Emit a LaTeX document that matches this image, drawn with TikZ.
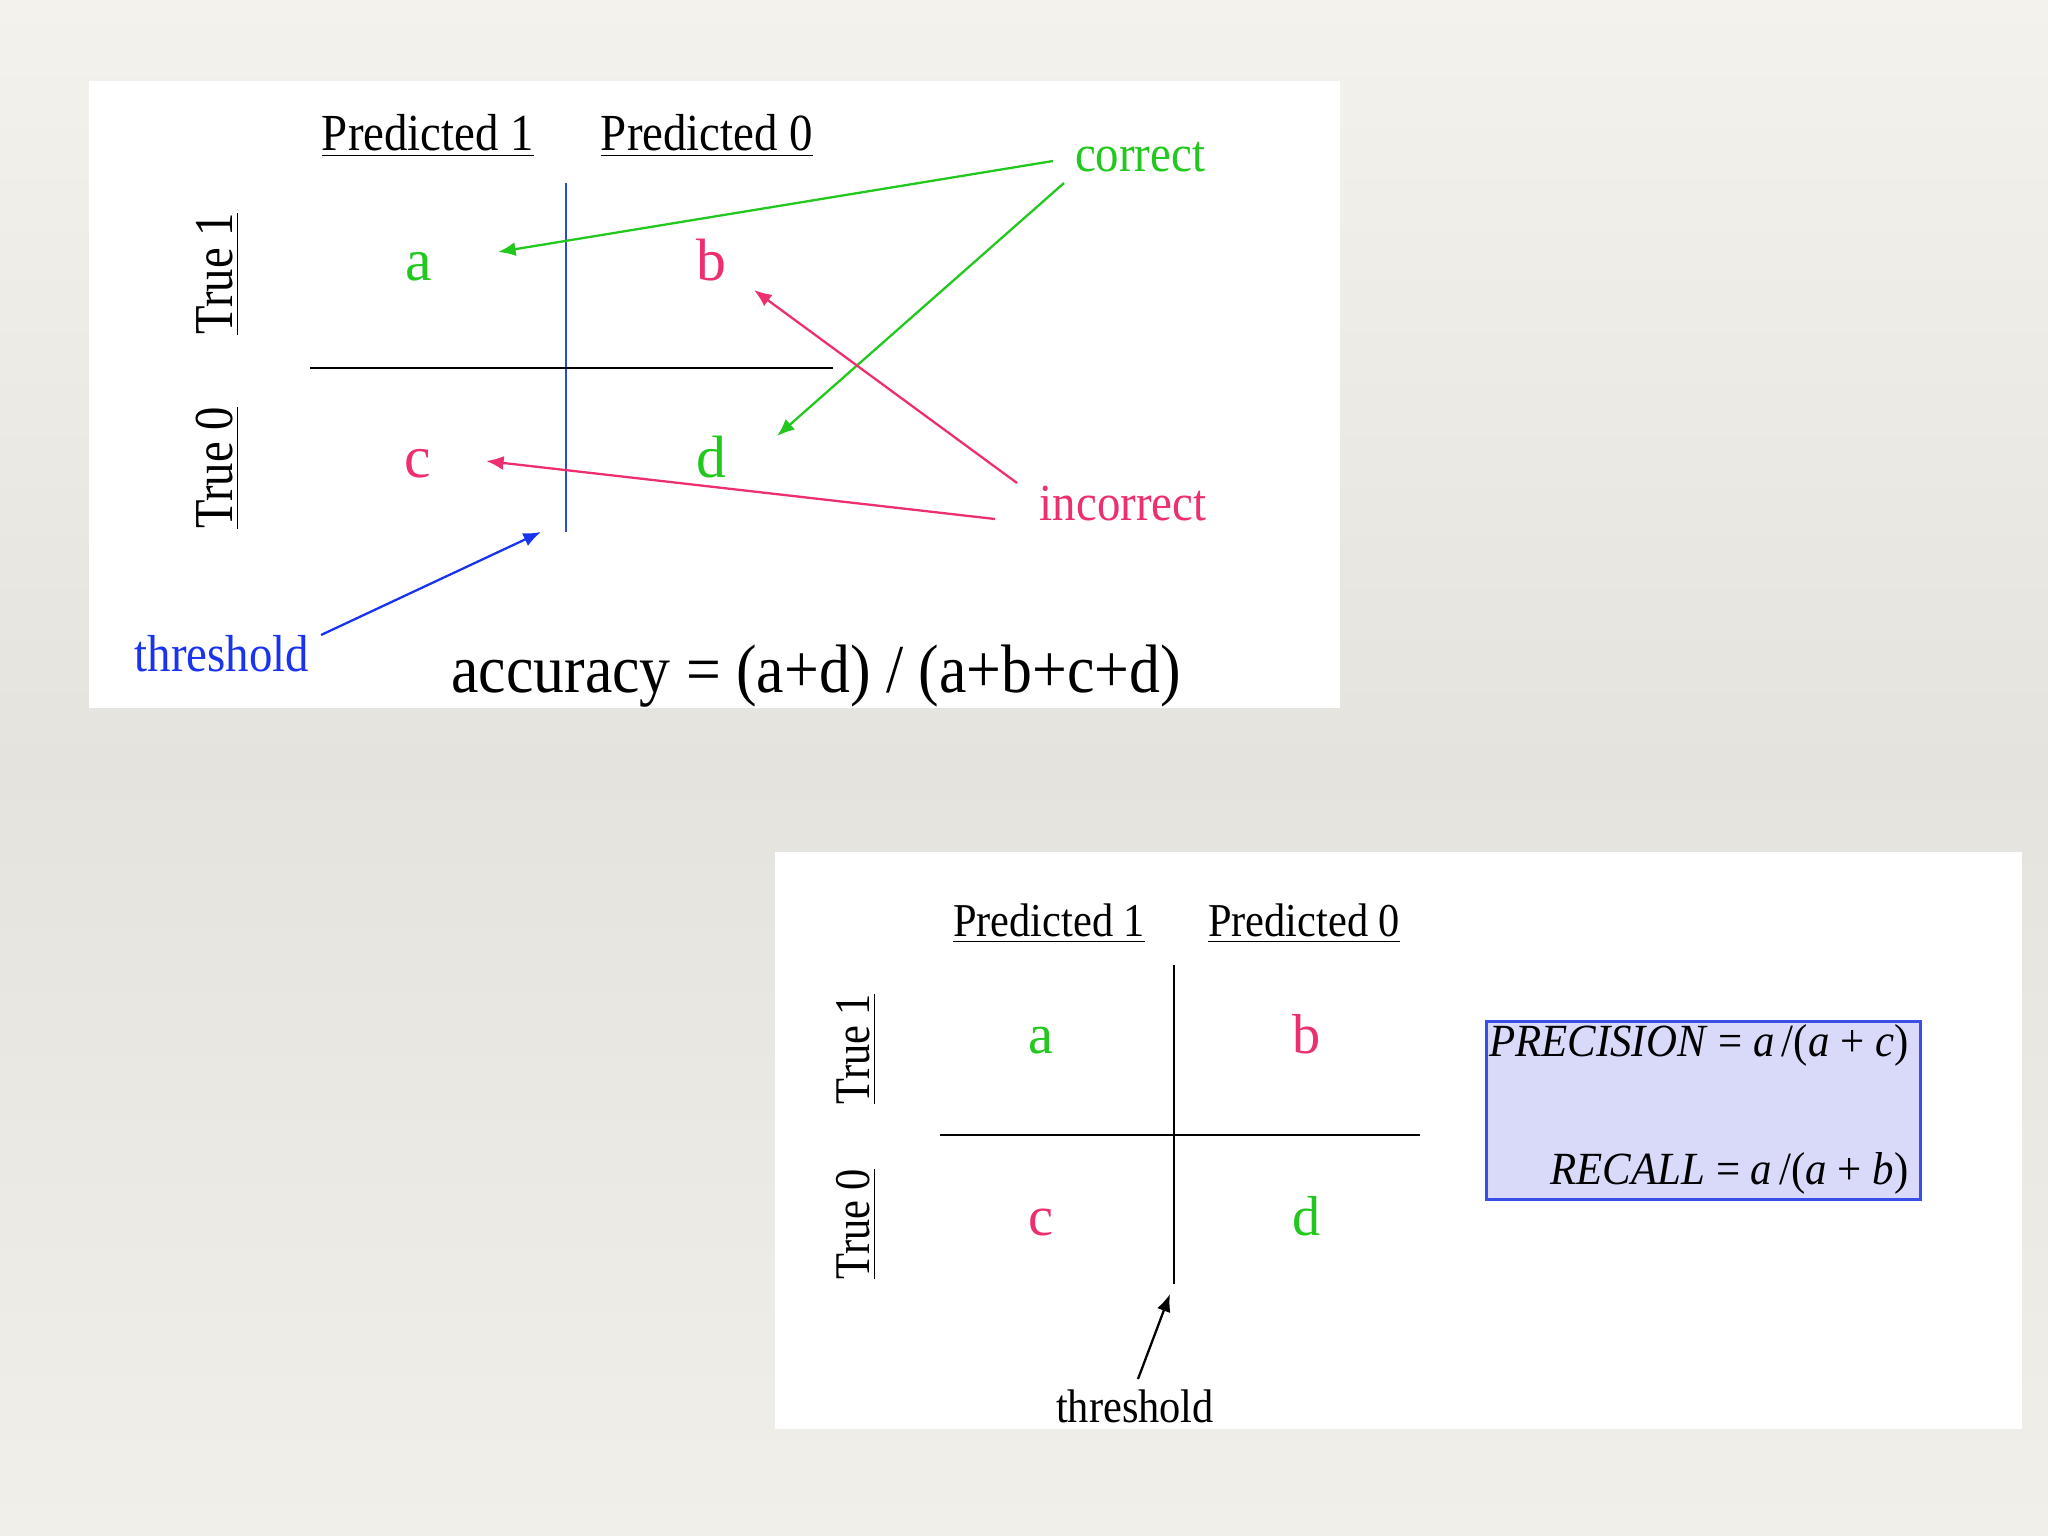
\documentclass[tikz,border=0pt]{standalone}
\usepackage{fontspec}
\usepackage{graphicx}
\setmainfont{Liberation Serif}
\usetikzlibrary{arrows.meta}
\definecolor{cgreen}{HTML}{22C81E}
\definecolor{cpink}{HTML}{EE2F6E}
\definecolor{cblue}{HTML}{1A33EE}
\definecolor{lineblue}{HTML}{2A4AD8}
\definecolor{boxfill}{HTML}{D9D9FA}
\definecolor{boxdraw}{HTML}{3850E8}
\definecolor{bgtop}{HTML}{F3F2EC}
\definecolor{bgmid}{HTML}{E4E3DD}
\definecolor{bgbot}{HTML}{F0EFE9}
\newcommand\fsz[1]{\fontsize{#1}{#1}\selectfont}
\newcommand\cond[1]{\scalebox{0.9}[1]{#1}}
\tikzset{
  lbl/.style={inner sep=0pt, anchor=base},
  toplbl/.style={lbl, font=\fsz{14.8pt}},
  botlbl/.style={lbl, font=\fsz{13.4pt}},
  topcell/.style={lbl, font=\fsz{17pt}},
  botcell/.style={lbl, font=\fsz{16pt}},
  toptrue/.style={lbl, rotate=90, font=\fsz{15.6pt}},
  bottrue/.style={lbl, rotate=90, font=\fsz{14.2pt}},
  panel/.style={fill=white, draw=none},
  grid/.style={line width=0.8pt, black},
  arr/.style={line width=0.65pt, -{Latex[length=5pt,width=4pt]}},
}
\begin{document}
\begin{tikzpicture}[x=0.01cm, y=-0.01cm]
\useasboundingbox (0,0) rectangle (2048,1536);
\shade[top color=bgtop, bottom color=bgbot, middle color=bgmid] (0,0) rectangle (2048,1536);

% ---------- top panel ----------
\fill[panel] (89,81) rectangle (1340,708);
\node[toplbl] (p1) at (428,150) {\cond{\underline{Predicted 1}}};
\node[toplbl] (p0) at (707,150) {\cond{\underline{Predicted 0}}};
\node[toptrue] (t1) at (232,274) {\scalebox{0.85}[1]{\underline{True 1}}};
\node[toptrue] (t0) at (232,468) {\scalebox{0.85}[1]{\underline{True 0}}};
\coordinate (vt) at (566,183);
\coordinate (vb) at (566,532);
\coordinate (hl) at (310,368);
\coordinate (hr) at (833,368);
\draw[line width=0.6pt, lineblue] (vt) -- (vb);
\draw[grid] (hl) -- (hr);
\node[topcell, text=cgreen] (a1) at (419,280) {a};
\node[topcell, text=cpink] (b1) at (711,280) {b};
\node[topcell, text=cpink] (c1) at (418,477) {c};
\node[topcell, text=cgreen] (d1) at (711,477) {d};
\node[toplbl, text=cgreen] (corr) at (1140,171) {\cond{correct}};
\node[toplbl, text=cpink] (inc) at (1123,520) {\cond{incorrect}};
\node[toplbl, text=cblue] (thr1) at (222,671) {\cond{threshold}};
\node[lbl, font=\fsz{19.5pt}] (acc) at (816,692) {\cond{accuracy = (a+d) / (a+b+c+d)}};
\coordinate (cs1) at (1053,161);
\coordinate (ce1) at (498,252);
\coordinate (cs2) at (1064,183);
\coordinate (ce2) at (777,436);
\coordinate (is1) at (1017,483);
\coordinate (ie1) at (754,290);
\coordinate (is2) at (995,519);
\coordinate (ie2) at (486,461);
\coordinate (ts) at (321,635);
\coordinate (te) at (541,532);
\draw[arr, cgreen] (cs1) -- (ce1);
\draw[arr, cgreen] (cs2) -- (ce2);
\draw[arr, cpink] (is1) -- (ie1);
\draw[arr, cpink] (is2) -- (ie2);
\draw[arr, cblue] (ts) -- (te);

% ---------- bottom panel ----------
\fill[panel] (775,852) rectangle (2022,1429);
\node[botlbl] (q1) at (1049,936) {\cond{\underline{Predicted 1}}};
\node[botlbl] (q0) at (1304,936) {\cond{\underline{Predicted 0}}};
\node[bottrue] (u1) at (869,1049) {\scalebox{0.85}[1]{\underline{True 1}}};
\node[bottrue] (u0) at (869,1224) {\scalebox{0.85}[1]{\underline{True 0}}};
\coordinate (wt) at (1174,965);
\coordinate (wb) at (1174,1284);
\coordinate (gl) at (940,1135);
\coordinate (gr) at (1420,1135);
\draw[line width=0.6pt] (wt) -- (wb);
\draw[grid] (gl) -- (gr);
\node[botcell, text=cgreen] (a2) at (1041,1053) {a};
\node[botcell, text=cpink] (b2) at (1307,1053) {b};
\node[botcell, text=cpink] (c2) at (1041,1235) {c};
\node[botcell, text=cgreen] (d2) at (1307,1235) {d};
\node[draw=boxdraw, line width=0.8pt, fill=boxfill, minimum width=4.34cm, minimum height=1.78cm, inner sep=0pt, anchor=north west] (box) at (1485,1020) {};
\node[lbl, anchor=base east, font=\fsz{13.1pt}] (prec) at (1909,1056) {\scalebox{0.93}[1]{\textit{PRECISION}~=~\textit{a}\,/(\textit{a}~+~\textit{c})}};
\node[lbl, anchor=base east, font=\fsz{13.1pt}] (rec) at (1909,1184) {\scalebox{0.93}[1]{\textit{RECALL}~=~\textit{a}\,/(\textit{a}~+~\textit{b})}};
\node[botlbl] (thr2) at (1135,1422) {\cond{threshold}};
\coordinate (ks) at (1138,1379);
\coordinate (ke) at (1170,1294);
\draw[arr, black] (ks) -- (ke);
\end{tikzpicture}
\end{document}
